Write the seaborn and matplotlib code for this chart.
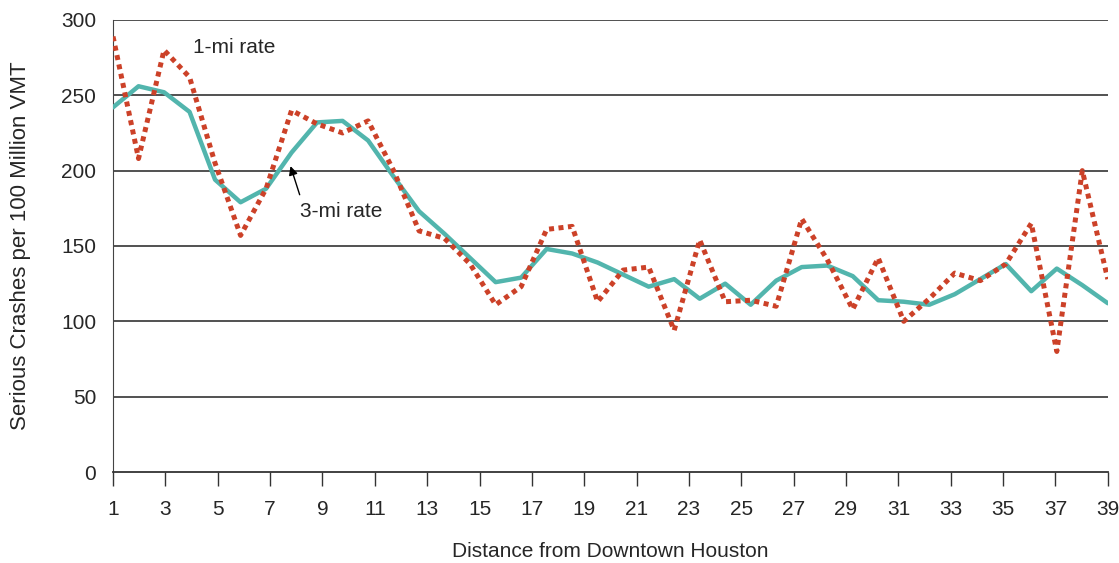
import numpy as np
import pandas as pd
import matplotlib.pyplot as plt
import seaborn as sns

# 40 readings spread evenly over the 1-39 mile range
distance = np.linspace(1, 39, 40)

rate_3mi = [242, 256, 252, 239, 194, 179, 188, 212, 232, 233,
            220, 196, 173, 158, 142, 126, 129, 148, 145, 139,
            131, 123, 128, 115, 125, 111, 127, 136, 137, 130,
            114, 113, 111, 118, 128, 138, 120, 135, 124, 112]

rate_1mi = [289, 208, 280, 262, 205, 157, 188, 240, 231, 225,
            233, 200, 160, 155, 138, 111, 123, 161, 163, 113,
            134, 136, 94, 154, 113, 114, 110, 168, 141, 108,
            142, 100, 115, 132, 127, 138, 165, 80, 200, 128]

x_ticks = list(range(1, 40, 2))
y_ticks = [0, 50, 100, 150, 200, 250, 300]

df = pd.DataFrame({'distance': distance, 'three': rate_3mi, 'one': rate_1mi})

sns.set_style('white')
plt.rcParams['font.family'] = ['Liberation Sans', 'DejaVu Sans']

fig = plt.figure(figsize=(11.19, 5.63), dpi=100)
ax = fig.add_axes([0.101, 0.1616, 0.889, 0.803])

# horizontal grid lines
for v in y_ticks[1:]:
    ax.axhline(v, color='#333333', lw=1.2, zorder=0)

sns.lineplot(data=df, x='distance', y='three', color='#52b5ad', lw=3.2, ax=ax, zorder=3)
sns.lineplot(data=df, x='distance', y='one', color='#cc4128', lw=3.6,
             dashes=False, ax=ax, zorder=4)
ax.lines[-1].set_dashes([1.0, 0.9])
ax.lines[-1].set_dash_capstyle('butt')

ax.set_xlim(1, 39)
ax.set_ylim(0, 300)
ax.set_xticks(x_ticks)
ax.set_yticks(y_ticks)
ax.tick_params(axis='x', bottom=True, direction='out', length=10, width=1,
               color='#333333', labelsize=15, pad=10)
ax.tick_params(axis='y', left=False, length=0, labelsize=15, pad=12)

for s in ['top', 'right']:
    ax.spines[s].set_visible(False)
ax.spines['left'].set_color('#444444')
ax.spines['bottom'].set_color('#333333')
ax.spines['bottom'].set_linewidth(1.3)

ax.set_xlabel('Distance from Downtown Houston', fontsize=15, labelpad=17)
ax.set_ylabel('Serious Crashes per 100 Million VMT', fontsize=16, labelpad=22)

ax.text(4.05, 282, '1-mi rate', fontsize=15, va='center', ha='left')
ax.text(8.13, 173, '3-mi rate', fontsize=15, va='center', ha='left')
ax.annotate('', xy=(7.78, 203), xytext=(8.13, 184),
            arrowprops=dict(arrowstyle='-|>', color='black', lw=1,
                            shrinkA=0, shrinkB=0, mutation_scale=13))

fig.savefig('out.png', dpi=100)
